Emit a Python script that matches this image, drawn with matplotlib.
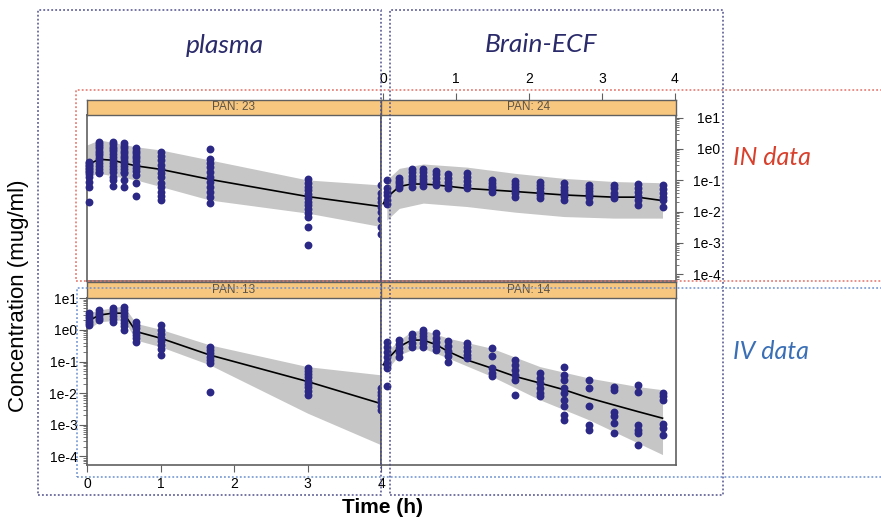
import numpy as np
import matplotlib.pyplot as plt
from matplotlib.patches import Rectangle
from matplotlib.ticker import LogLocator, NullFormatter

plt.rcParams['font.family'] = ['Liberation Sans', 'DejaVu Sans']

W, H = 881, 519

# ---- data (log10 of concentration, mug/ml) ----
plasma_times = [0.033, 0.167, 0.35, 0.5, 0.667, 1.0, 1.667, 3.0, 4.0]
brain_times = [0.05, 0.22, 0.39, 0.55, 0.73, 0.89, 1.15, 1.49, 1.81, 2.15,
               2.48, 2.82, 3.16, 3.49, 3.83]

# PAN 23 : IN, plasma
in_plasma_obs = [
    [-0.41, -0.45, -0.5, -0.55, -0.6, -0.65, -0.7, -0.75, -0.8, -0.88, -1.04, -1.22, -1.71],
    [0.23, 0.17, 0.1, 0.03, -0.05, -0.12, -0.2, -0.28, -0.36, -0.45, -0.55, -0.65, -0.72, -0.78],
    [0.23, 0.15, 0.07, 0.0, -0.08, -0.16, -0.25, -0.35, -0.45, -0.55, -0.65, -0.75, -0.88, -0.99, -1.18],
    [0.18, 0.1, 0.02, -0.06, -0.14, -0.22, -0.3, -0.38, -0.46, -0.55, -0.64, -0.72, -0.78, -0.99, -1.2],
    [0.02, -0.06, -0.14, -0.22, -0.3, -0.4, -0.5, -0.6, -0.7, -0.83, -1.1, -1.49],
    [-0.09, -0.22, -0.35, -0.5, -0.64, -0.78, -0.88, -1.1, -1.23, -1.36, -1.5, -1.63],
    [0.0, -0.32, -0.44, -0.58, -0.72, -0.88, -1.04, -1.2, -1.36, -1.52, -1.73],
    [-0.96, -1.08, -1.2, -1.32, -1.44, -1.56, -1.68, -1.8, -1.92, -2.04, -2.16, -2.5, -3.06],
    [-1.15, -1.42, -1.58, -1.68, -1.84, -2.0, -2.25, -2.48, -2.72],
]
in_plasma_line_t = [0.0, 0.167, 0.35, 0.5, 0.667, 1.0, 1.667, 3.0, 4.0]
in_plasma_line = [-0.51, -0.33, -0.36, -0.45, -0.54, -0.65, -0.97, -1.52, -1.84]
in_plasma_band_t = [0.0, 0.167, 0.667, 1.0, 1.667, 3.0, 4.0]
in_plasma_hi = [0.13, 0.29, 0.07, -0.03, -0.35, -0.99, -1.15]
in_plasma_lo = [-0.88, -0.78, -0.99, -1.2, -1.63, -2.05, -2.48]

# PAN 24 : IN, brain ECF
in_brain_obs = [
    [-0.99, -1.26, -1.36, -1.47, -1.63, -1.76],
    [-0.94, -1.02, -1.1, -1.18, -1.26],
    [-0.65, -0.75, -0.85, -0.95, -1.05, -1.2],
    [-0.65, -0.75, -0.85, -0.95, -1.05, -1.18],
    [-0.69, -0.8, -0.92, -1.04, -1.15],
    [-0.8, -0.92, -1.04, -1.15, -1.26],
    [-0.78, -0.9, -1.02, -1.14, -1.26],
    [-0.99, -1.08, -1.17, -1.26, -1.36],
    [-1.02, -1.12, -1.22, -1.32, -1.42, -1.52],
    [-1.06, -1.16, -1.26, -1.36, -1.46, -1.58],
    [-1.1, -1.2, -1.3, -1.4, -1.5, -1.63],
    [-1.15, -1.25, -1.35, -1.45, -1.55, -1.68],
    [-1.15, -1.25, -1.4, -1.5, -1.58],
    [-1.12, -1.25, -1.38, -1.5, -1.62, -1.79],
    [-1.15, -1.27, -1.4, -1.52, -1.64, -1.84],
]
in_brain_line_t = [0.0, 0.05, 0.22, 0.39, 0.55, 0.73, 1.15, 1.81, 2.48, 3.16, 3.49, 3.83]
in_brain_line = [-1.75, -1.55, -1.2, -1.12, -1.12, -1.15, -1.26, -1.36, -1.47, -1.54, -1.54, -1.65]
in_brain_band_t = [0.05, 0.22, 0.55, 1.15, 1.81, 2.48, 3.16, 3.83]
in_brain_hi = [-0.99, -0.62, -0.48, -0.58, -0.78, -0.94, -1.04, -1.08]
in_brain_lo = [-2.27, -1.9, -1.73, -1.84, -2.02, -2.16, -2.21, -2.21]

# PAN 13 : IV, plasma
iv_plasma_obs = [
    [0.53, 0.45, 0.37, 0.29, 0.21, 0.16],
    [0.63, 0.55, 0.47, 0.39, 0.32],
    [0.68, 0.6, 0.52, 0.44, 0.36, 0.26],
    [0.73, 0.63, 0.53, 0.43, 0.33, 0.23, 0.12, 0.0],
    [0.26, 0.16, 0.05, -0.05, -0.15, -0.26, -0.37],
    [0.16, 0.0, -0.12, -0.24, -0.36, -0.48, -0.6, -0.79],
    [-0.53, -0.63, -0.73, -0.84, -0.95, -1.05, -1.95],
    [-1.21, -1.3, -1.4, -1.5, -1.6, -1.7, -1.8, -1.92, -2.05],
    [-1.84, -1.95, -2.06, -2.17, -2.28, -2.4, -2.52],
]
iv_plasma_line_t = [0.0, 0.167, 0.35, 0.5, 0.667, 1.0, 1.667, 3.0, 4.0]
iv_plasma_line = [0.26, 0.47, 0.53, 0.53, -0.05, -0.26, -0.79, -1.63, -2.33]
iv_plasma_band_t = [0.0, 0.167, 0.5, 0.667, 1.0, 1.667, 3.0, 4.0]
iv_plasma_hi = [0.53, 0.63, 0.76, 0.21, 0.02, -0.47, -1.16, -1.42]
iv_plasma_lo = [0.0, 0.26, 0.32, -0.32, -0.53, -1.1, -2.63, -3.63]

# PAN 14 : IV, brain ECF
iv_brain_obs = [
    [-0.37, -0.55, -0.7, -0.85, -1.0, -1.12, -1.21, -1.77],
    [-0.32, -0.45, -0.58, -0.71, -0.84],
    [-0.13, -0.26, -0.4, -0.53],
    [0.0, -0.1, -0.2, -0.3, -0.42, -0.53],
    [-0.11, -0.24, -0.37, -0.5, -0.63],
    [-0.34, -0.5, -0.66, -0.83, -1.0],
    [-0.42, -0.54, -0.66, -0.78, -0.89],
    [-0.58, -0.82, -1.21, -1.37, -1.47],
    [-0.95, -1.1, -1.26, -1.42, -1.58, -2.07],
    [-1.37, -1.52, -1.68, -1.84, -2.0, -2.1],
    [-1.16, -1.42, -1.58, -1.84, -2.0, -2.21, -2.42, -2.68, -2.84],
    [-1.58, -1.84, -2.42, -3.0, -3.15],
    [-1.79, -1.89, -2.58, -2.73, -2.94, -3.26],
    [-1.73, -1.95, -3.0, -3.15, -3.26, -3.65],
    [-2.0, -2.1, -2.21, -2.97, -3.1, -3.31],
]
iv_brain_line_t = [0.0, 0.05, 0.22, 0.39, 0.55, 0.73, 0.89, 1.15, 1.49, 1.81, 2.15,
                   2.48, 2.82, 3.16, 3.49, 3.83]
iv_brain_line = [-1.1, -0.95, -0.53, -0.32, -0.32, -0.47, -0.68, -0.95, -1.21, -1.47, -1.68,
                 -1.89, -2.15, -2.37, -2.58, -2.79]
iv_brain_band_t = [0.05, 0.22, 0.39, 0.55, 0.89, 1.49, 2.15, 2.82, 3.49, 3.83]
iv_brain_hi = [-0.68, -0.32, -0.05, 0.0, -0.26, -0.58, -1.16, -1.52, -1.79, -1.89]
iv_brain_lo = [-1.26, -0.79, -0.63, -0.58, -0.89, -1.47, -2.21, -2.84, -3.57, -3.94]

y_ticks = [1e-4, 1e-3, 1e-2, 1e-1, 1e0, 1e1]
y_tick_labels = ['1e-4', '1e-3', '1e-2', '1e-1', '1e0', '1e1']
x_ticks = [0, 1, 2, 3, 4]

DOT = '#2b2886'
BAND = '#c6c6c6'
STRIP = '#f8c77f'
FRAME = '#606060'


def px(x0, y0, x1, y1):
    return [x0 / W, 1 - y1 / H, (x1 - x0) / W, (y1 - y0) / H]


def panel(rect, xlim, ylim, t_obs, obs, lt, lv, bt, lo, hi):
    ax = fig.add_axes(px(*rect))
    ax.set_yscale('log')
    ax.fill_between(bt, 10 ** np.array(lo), 10 ** np.array(hi), color=BAND, lw=0, zorder=1)
    ax.plot(lt, 10 ** np.array(lv), color='black', lw=1.2, zorder=2)
    for t, col in zip(t_obs, obs):
        ax.scatter([t] * len(col), 10 ** np.array(col), s=32, color=DOT, lw=0,
                   zorder=3, clip_on=False)
    ax.set_xlim(*xlim)
    ax.set_ylim(*ylim)
    ax.tick_params(which='both', left=False, right=False, top=False, bottom=False,
                   labelleft=False, labelbottom=False, labelsize=10)
    for s in ax.spines.values():
        s.set_color(FRAME)
        s.set_linewidth(1.2)
    return ax


def strip(rect, xlim, label):
    sx = fig.add_axes(px(*rect))
    sx.set_facecolor(STRIP)
    sx.set_xlim(*xlim)
    sx.set_yticks([])
    sx.set_xticks([])
    for s in sx.spines.values():
        s.set_color(FRAME)
        s.set_linewidth(1.0)
    sx.text(0.5, 0.5, label, transform=sx.transAxes, ha='center', va='center',
            fontsize=8.5, color='#5c5346')
    return sx


def log_axis(ax, side):
    ax.set_yticks(y_ticks, y_tick_labels)
    ax.yaxis.set_minor_locator(LogLocator(base=10, subs=np.arange(2, 10), numticks=20))
    ax.yaxis.set_minor_formatter(NullFormatter())
    if side == 'left':
        ax.tick_params(axis='y', which='major', left=True, labelleft=True,
                       length=6, pad=1, color=FRAME, labelsize=10)
        ax.tick_params(axis='y', which='minor', left=True, length=3, color=FRAME)
    else:
        ax.tick_params(axis='y', which='major', right=True, labelright=True,
                       length=5, pad=27, color=FRAME, labelsize=10)
        ax.tick_params(axis='y', which='minor', right=True, length=2.5, color=FRAME)
        for lbl in ax.get_yticklabels():
            lbl.set_horizontalalignment('right')


fig = plt.figure(figsize=(W / 100, H / 100), dpi=100)

xl_left = (0.0, 4.0)
xl_right = (-0.03, 4.015)
yl_top = (10 ** -4.22, 10 ** 1.086)
yl_bot = (10 ** -4.27, 10 ** 1.01)

ax23 = panel((87, 115, 381, 281), xl_left, yl_top, plasma_times, in_plasma_obs,
             in_plasma_line_t, in_plasma_line, in_plasma_band_t, in_plasma_lo, in_plasma_hi)
ax24 = panel((381, 115, 676, 281), xl_right, yl_top, brain_times, in_brain_obs,
             in_brain_line_t, in_brain_line, in_brain_band_t, in_brain_lo, in_brain_hi)
ax13 = panel((87, 298, 381, 465), xl_left, yl_bot, plasma_times, iv_plasma_obs,
             iv_plasma_line_t, iv_plasma_line, iv_plasma_band_t, iv_plasma_lo, iv_plasma_hi)
ax14 = panel((381, 298, 676, 465), xl_right, yl_bot, brain_times, iv_brain_obs,
             iv_brain_line_t, iv_brain_line, iv_brain_band_t, iv_brain_lo, iv_brain_hi)

strip((87, 100, 381, 115), xl_left, 'PAN: 23')
s24 = strip((381, 100, 676, 115), xl_right, 'PAN: 24')
strip((87, 282, 381, 298), xl_left, 'PAN: 13')
strip((381, 282, 676, 298), xl_right, 'PAN: 14')

# axes that carry ticks (lattice alternating style)
log_axis(ax13, 'left')
log_axis(ax24, 'right')

ax13.set_xticks(x_ticks)
ax13.tick_params(axis='x', bottom=True, labelbottom=True, length=5, pad=4,
                 color=FRAME, labelsize=10)
s24.set_xticks(x_ticks)
s24.xaxis.tick_top()
s24.tick_params(axis='x', top=True, labeltop=True, length=5, pad=5,
                color=FRAME, labelsize=10)

# axis titles
fig.text(19 / W, 1 - 296 / H, 'Concentration (mug/ml)', rotation=90,
         ha='center', va='center', fontsize=16)
fig.text(382 / W, 1 - 513 / H, 'Time (h)', ha='center', va='baseline',
         fontsize=15, fontweight='bold')

# annotations drawn over the trellis
fig.text(225 / W, 1 - 53.5 / H, 'plasma', ha='center', va='baseline', fontsize=19,
         family='Lato', style='italic', color='#2b2b6b')
fig.text(541 / W, 1 - 52 / H, 'Brain-ECF', ha='center', va='baseline', fontsize=19,
         family='Lato', style='italic', color='#2b2b6b')
fig.text(733 / W, 1 - 165 / H, 'IN data', ha='left', va='baseline', fontsize=18,
         family='Lato', style='italic', color='#d8402c')
fig.text(733 / W, 1 - 359 / H, 'IV data', ha='left', va='baseline', fontsize=18,
         family='Lato', style='italic', color='#3a6fb5')

frames = [
    ((38, 10, 381, 495), '#4f4f8c'),
    ((390, 10, 723, 495), '#4f4f8c'),
    ((76, 90, 900, 280.5), '#e36f66'),
    ((77, 288, 900, 477), '#6a90cf'),
]
for (x0, y0, x1, y1), c in frames:
    fig.add_artist(Rectangle((x0 / W, 1 - y1 / H), (x1 - x0) / W, (y1 - y0) / H,
                             transform=fig.transFigure, fill=False, ec=c, lw=1.1,
                             ls=(0, (1.2, 1.4)), zorder=10))

fig.savefig('out.png', dpi=100)
